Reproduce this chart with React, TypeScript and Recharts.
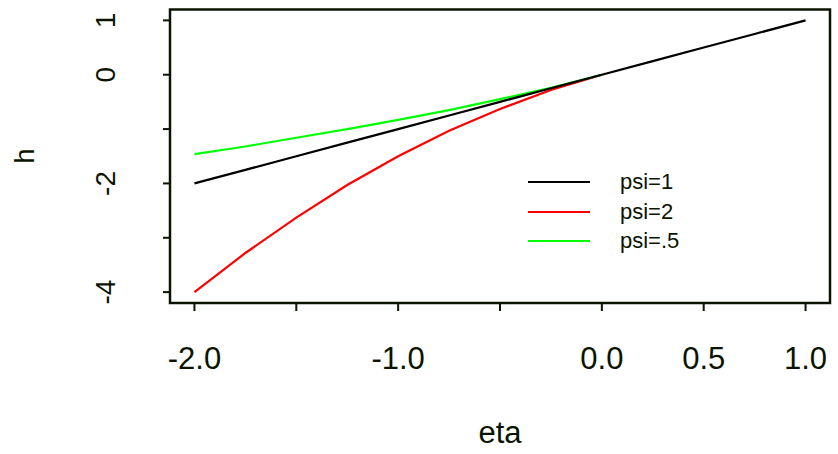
import React from "react";
import { LineChart, Line, XAxis, YAxis, ReferenceArea } from "recharts";

// valores
const ETA = [-2, -1.75, -1.5, -1.25, -1, -0.75, -0.5, -0.25, 0, 0.25, 0.5, 0.75, 1];
const H_PSI1 = [-2, -1.75, -1.5, -1.25, -1, -0.75, -0.5, -0.25, 0, 0.25, 0.5, 0.75, 1];
const H_PSI2 = [-4, -3.28, -2.63, -2.03, -1.5, -1.03, -0.63, -0.28, 0, null, null, null, null];
const H_PSI05 = [-1.46, -1.32, -1.16, -1.0, -0.83, -0.65, -0.45, -0.24, 0, null, null, null, null];

const X_TICKS = [-2, -1.5, -1, -0.5, 0, 0.5, 1];
const X_LABELS = ["-2.0", "", "-1.0", "", "0.0", "0.5", "1.0"];
const Y_TICKS = [-4, -3, -2, -1, 0, 1];
const Y_LABELS = ["-4", "", "-2", "", "0", "1"];

const LEGENDA = ["psi=1", "psi=2", "psi=.5"];
const CORES = ["#000000", "#ff0000", "#00ff00"];

const INK = "#0a1400";
const FONT = "'Liberation Sans', Arial, sans-serif";

const dados = ETA.map((eta, i) => ({
  eta,
  psi1: H_PSI1[i],
  psi2: H_PSI2[i],
  psi05: H_PSI05[i],
}));

function XTick({ x, payload }: any) {
  const idx = X_TICKS.indexOf(payload.value);
  return (
    <text x={x} y={369} textAnchor="middle" fontSize={31} fill={INK} fontFamily={FONT}>
      {X_LABELS[idx]}
    </text>
  );
}

function YTick({ y, payload }: any) {
  const idx = Y_TICKS.indexOf(payload.value);
  return (
    <text
      x={115}
      y={y}
      transform={`rotate(-90, 115, ${y})`}
      textAnchor="middle"
      fontSize={28}
      fill={INK}
      fontFamily={FONT}
    >
      {Y_LABELS[idx]}
    </text>
  );
}

export default function App() {
  return (
    <div
      style={{
        position: "absolute",
        left: 0,
        top: 0,
        width: 838,
        height: 454,
        background: "#fff",
        fontFamily: FONT,
      }}
    >
      <LineChart
        width={838}
        height={454}
        data={dados}
        margin={{ top: 9.5, right: 8, left: 0, bottom: 0 }}
      >
        <XAxis
          dataKey="eta"
          type="number"
          domain={[-2.12, 1.12]}
          allowDataOverflow
          ticks={X_TICKS}
          interval={0}
          height={151}
          axisLine={false}
          tickSize={8}
          tickLine={{ stroke: INK, strokeWidth: 2 }}
          tick={<XTick />}
        />
        <YAxis
          type="number"
          domain={[-4.2, 1.2]}
          allowDataOverflow
          ticks={Y_TICKS}
          interval={0}
          width={170}
          axisLine={false}
          tickSize={7}
          tickLine={{ stroke: INK, strokeWidth: 2 }}
          tick={<YTick />}
        />
        <Line
          dataKey="psi2"
          name="psi=2"
          stroke="#ff0000"
          strokeWidth={2.2}
          dot={false}
          isAnimationActive={false}
        />
        <Line
          dataKey="psi05"
          name="psi=.5"
          stroke="#00ff00"
          strokeWidth={2.2}
          dot={false}
          isAnimationActive={false}
        />
        <Line
          dataKey="psi1"
          name="psi=1"
          stroke="#000000"
          strokeWidth={2.2}
          dot={false}
          isAnimationActive={false}
        />
        <ReferenceArea
          x1={-2.12}
          x2={1.12}
          y1={-4.2}
          y2={1.2}
          fill="none"
          stroke={INK}
          strokeWidth={2.5}
        />
      </LineChart>

      {/* legenda no estilo do R, sem moldura */}
      <div style={{ position: "absolute", left: 528, top: 167.6 }}>
        {LEGENDA.map((nome, i) => (
          <div key={nome} style={{ height: 29.4, display: "flex", alignItems: "center" }}>
            <div style={{ width: 62, height: 2.2, background: CORES[i] }} />
            <span style={{ marginLeft: 30, fontSize: 22, color: INK }}>{nome}</span>
          </div>
        ))}
      </div>

      <div
        style={{
          position: "absolute",
          left: 0,
          top: 415,
          width: 1000,
          textAlign: "center",
          fontSize: 31,
          color: INK,
          lineHeight: "36px",
        }}
      >
        eta
      </div>
      <svg width={60} height={454} style={{ position: "absolute", left: 0, top: 0 }}>
        <text
          x={34}
          y={156}
          transform="rotate(-90, 34, 156)"
          textAnchor="middle"
          fontSize={27}
          fill={INK}
          fontFamily={FONT}
        >
          h
        </text>
      </svg>
    </div>
  );
}
